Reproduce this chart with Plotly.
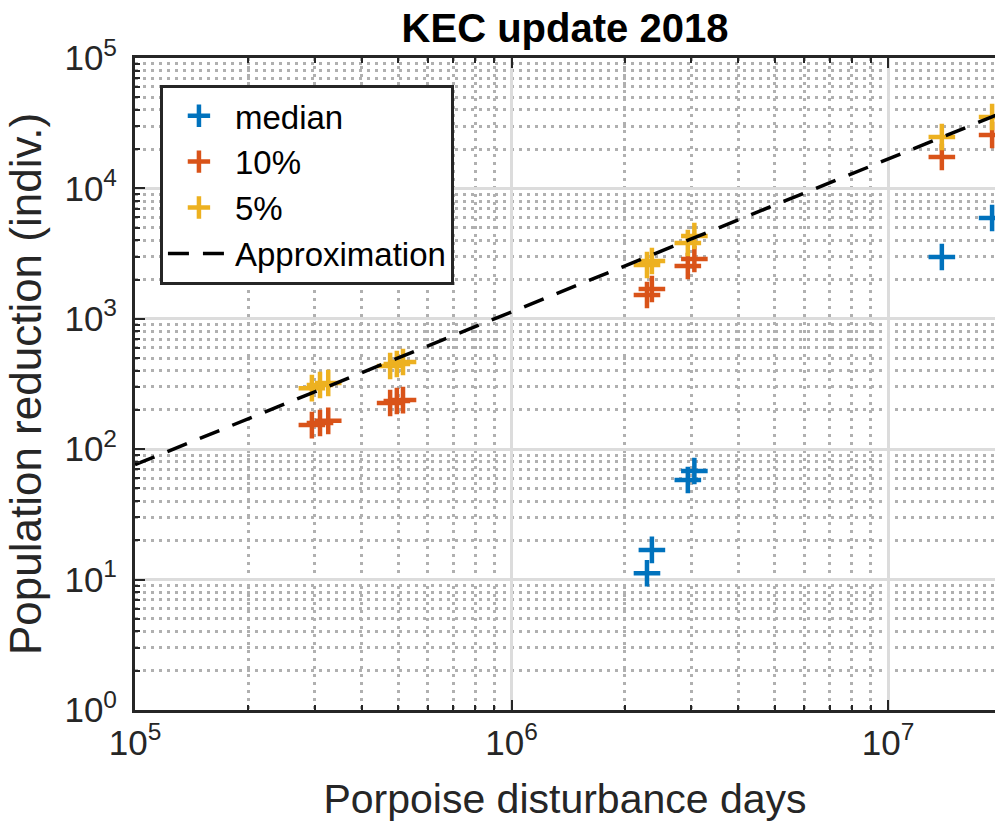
import plotly.graph_objects as go

# Disturbance days per scenario and the resulting population reduction
days_median = [2.29e6, 2.36e6, 2.94e6, 3.06e6, 1.39e7, 1.89e7]
red_median = [11.2, 16.9, 58, 68, 2980, 5930]

days_pct = [2.95e5, 3.10e5, 3.26e5, 4.76e5, 4.96e5, 5.15e5,
            2.29e6, 2.36e6, 2.94e6, 3.06e6, 1.39e7, 1.89e7]
red_p10 = [153, 159, 165, 226, 234, 238, 1523, 1693, 2541, 2875, 17400, 25700]
red_p5 = [294, 311, 322, 434, 450, 466, 2586, 2775, 3813, 4315, 24800, 35300]

# Power-law approximation (straight line in log-log), given by its end points
approx_days = [1e5, 2e7]
approx_red = [76, 37800]

x_ticks = [1e5, 1e6, 1e7]
x_ticktext = ["10<sup>5</sup>", "10<sup>6</sup>", "10<sup>7</sup>"]
y_ticks = [1e0, 1e1, 1e2, 1e3, 1e4, 1e5]
y_ticktext = ["10<sup>0</sup>", "10<sup>1</sup>", "10<sup>2</sup>",
              "10<sup>3</sup>", "10<sup>4</sup>", "10<sup>5</sup>"]

BLUE = "#0072BD"
ORANGE = "#D95319"
YELLOW = "#EDB120"
FONT = "Liberation Sans, Arial, Helvetica, sans-serif"


def plus_trace(x, y, name, color):
    return go.Scatter(
        x=x, y=y, mode="markers", name=name,
        marker=dict(symbol="cross-thin-open", size=19, color=color,
                    line=dict(color=color, width=4.5)),
    )


fig = go.Figure()
fig.add_trace(plus_trace(days_median, red_median, "median", BLUE))
fig.add_trace(plus_trace(days_pct, red_p10, "10%", ORANGE))
fig.add_trace(plus_trace(days_pct, red_p5, "5%", YELLOW))
fig.add_trace(go.Scatter(
    x=approx_days, y=approx_red, mode="lines", name="Approximation",
    line=dict(color="black", width=3.5, dash="21px,14px"),
))

axis_common = dict(
    type="log",
    showline=True, linecolor="#262626", linewidth=3,
    ticks="inside", ticklen=10, tickwidth=2, tickcolor="#262626",
    showgrid=True, gridcolor="#dcdcdc", gridwidth=3,
    zeroline=False,
    tickfont=dict(family=FONT, size=35, color="#262626"),
    minor=dict(ticks="inside", ticklen=5, tickwidth=2, tickcolor="#262626",
               showgrid=True, gridcolor="#b0b0b0", gridwidth=3,
               griddash="3px,5px", dtick="D1"),
)

fig.update_layout(
    width=995, height=834,
    margin=dict(l=135, r=0, t=58, b=124),
    paper_bgcolor="white", plot_bgcolor="white",
    font=dict(family=FONT, color="#262626"),
    title=dict(text="<b>KEC update 2018</b>", x=0.5, xref="paper",
               y=1 - 28 / 834, yref="container", yanchor="middle",
               font=dict(family=FONT, size=40, color="black")),
    xaxis=dict(axis_common, range=[5, 5 + 860 / 376.5],
               tickvals=x_ticks, ticktext=x_ticktext, mirror="allticks",
               title=dict(text="Porpoise disturbance days", standoff=24,
                          font=dict(family=FONT, size=41, color="#262626"))),
    yaxis=dict(axis_common, range=[0, 5],
               tickvals=y_ticks, ticktext=y_ticktext, mirror=False,
               ticklabelstandoff=8,
               title=dict(text="Population reduction (indiv.)", standoff=10,
                          font=dict(family=FONT, size=44, color="#262626"))),
    legend=dict(x=0.029, y=0.959, xanchor="left", yanchor="top",
                bgcolor="white", bordercolor="#262626", borderwidth=3,
                itemwidth=62,
                font=dict(family=FONT, size=33, color="black")),
    showlegend=True,
)

fig.write_html("out.html", config={"displayModeBar": False})
